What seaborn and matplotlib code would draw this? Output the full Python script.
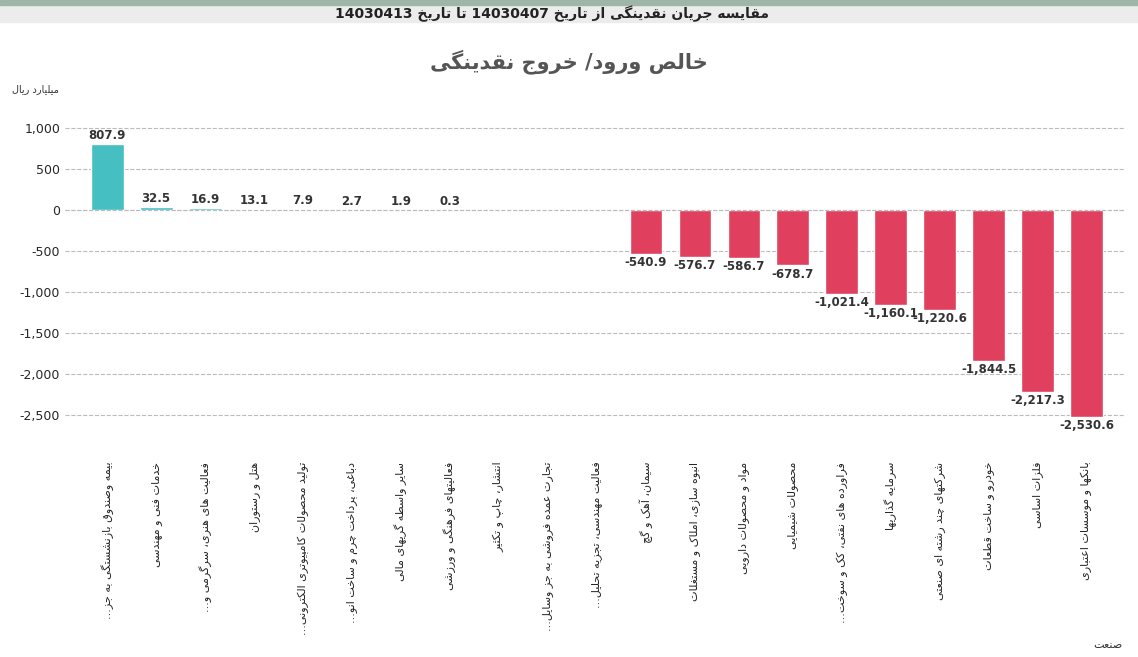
import re
import matplotlib
matplotlib.use("Agg")
import matplotlib.pyplot as plt
import seaborn as sns
import pandas as pd

categories = [
    "بیمه وصندوق بازنشستگی به جز...", "خدمات فنی و مهندسی", "فعالیت های هنری، سرگرمی و...",
    "هتل و رستوران", "تولید محصولات کامپیوتری الکترونی...", "دباغی، پرداخت چرم و ساخت انو...",
    "سایر واسطه گریهای مالی", "فعالیتهای فرهنگی و ورزشی", "انتشار، چاپ و تکثیر",
    "تجارت عمده فروشی به جز وسایل...", "فعالیت مهندسی، تجزیه تحلیل...", "سیمان، آهک و گچ",
    "انبوه سازی، املاک و مستغلات", "مواد و محصولات دارویی", "محصولات شیمیایی",
    "فراورده های نفتی، کک و سوخت...", "سرمایه گذاریها", "شرکتهای چند رشته ای صنعتی",
    "خودرو و ساخت قطعات", "فلزات اساسی", "بانکها و موسسات اعتباری",
]
values = [807.9, 32.5, 16.9, 13.1, 7.9, 2.7, 1.9, 0.3, 0, 0, 0,
          -540.9, -576.7, -586.7, -678.7, -1021.4, -1160.1, -1220.6, -1844.5, -2217.3, -2530.6]
show_label = [True]*8 + [False]*3 + [True]*10
yticks = [1000, 500, 0, -500, -1000, -1500, -2000, -2500]

# minimal Persian shaping: (isolated, final, initial, medial)
F = {
 'ا':(0xFE8D,0xFE8E,None,None),'آ':(0xFE81,0xFE82,None,None),
 'ب':(0xFE8F,0xFE90,0xFE91,0xFE92),'پ':(0xFB56,0xFB57,0xFB58,0xFB59),
 'ت':(0xFE95,0xFE96,0xFE97,0xFE98),'ث':(0xFE99,0xFE9A,0xFE9B,0xFE9C),
 'ج':(0xFE9D,0xFE9E,0xFE9F,0xFEA0),'چ':(0xFB7A,0xFB7B,0xFB7C,0xFB7D),
 'ح':(0xFEA1,0xFEA2,0xFEA3,0xFEA4),'خ':(0xFEA5,0xFEA6,0xFEA7,0xFEA8),
 'د':(0xFEA9,0xFEAA,None,None),'ذ':(0xFEAB,0xFEAC,None,None),
 'ر':(0xFEAD,0xFEAE,None,None),'ز':(0xFEAF,0xFEB0,None,None),'ژ':(0xFB8A,0xFB8B,None,None),
 'س':(0xFEB1,0xFEB2,0xFEB3,0xFEB4),'ش':(0xFEB5,0xFEB6,0xFEB7,0xFEB8),
 'ص':(0xFEB9,0xFEBA,0xFEBB,0xFEBC),'ض':(0xFEBD,0xFEBE,0xFEBF,0xFEC0),
 'ط':(0xFEC1,0xFEC2,0xFEC3,0xFEC4),'ظ':(0xFEC5,0xFEC6,0xFEC7,0xFEC8),
 'ع':(0xFEC9,0xFECA,0xFECB,0xFECC),'غ':(0xFECD,0xFECE,0xFECF,0xFED0),
 'ف':(0xFED1,0xFED2,0xFED3,0xFED4),'ق':(0xFED5,0xFED6,0xFED7,0xFED8),
 'ک':(0xFB8E,0xFB8F,0xFB90,0xFB91),'گ':(0xFB92,0xFB93,0xFB94,0xFB95),
 'ل':(0xFEDD,0xFEDE,0xFEDF,0xFEE0),'م':(0xFEE1,0xFEE2,0xFEE3,0xFEE4),
 'ن':(0xFEE5,0xFEE6,0xFEE7,0xFEE8),'و':(0xFEED,0xFEEE,None,None),
 'ه':(0xFEE9,0xFEEA,0xFEEB,0xFEEC),'ی':(0xFBFC,0xFBFD,0xFBFE,0xFBFF),
}
def fa(s):
    out = []
    for i, c in enumerate(s):
        if c not in F:
            out.append(c); continue
        p = s[i-1] if i > 0 else ''
        n = s[i+1] if i+1 < len(s) else ''
        jp = p in F and F[p][2] is not None
        jn = n in F and F[c][2] is not None
        f = F[c]
        if jp and jn: code = f[3]
        elif jp: code = f[1]
        elif jn: code = f[2]
        else: code = f[0]
        out.append(chr(code))
    r = ''.join(out)[::-1]
    r = re.sub(r'[0-9.,\-]+', lambda m: m.group(0)[::-1], r)
    return r

sns.set_theme(style="white")
plt.rcParams['font.family'] = ['DejaVu Sans']

df = pd.DataFrame({"cat": categories, "val": values})
df["sign"] = ["pos" if v >= 0 else "neg" for v in values]

fig = plt.figure(figsize=(11.38, 6.57), dpi=100)
fig.patch.set_facecolor("white")
ax = fig.add_axes([65/1138, 1-445/657, (1125-65)/1138, (445-105)/657])
sns.barplot(data=df, x="cat", y="val", hue="sign", palette={"pos": "#45BFC1", "neg": "#E0405E"},
            width=0.67, dodge=False, legend=False, ax=ax, saturation=1)
ax.set_ylim(-2870, 1280)
ax.set_xlim(-0.86, 20.78)
ax.set_yticks(yticks)
ax.set_yticklabels([f"{t:,}" for t in yticks], fontsize=9)
ax.yaxis.grid(True, linestyle="--", color="#bbbbbb", linewidth=0.8)
ax.axhline(0, color="#bbbbbb", linewidth=0.8, linestyle="--")
for s in ax.spines.values():
    s.set_visible(False)
ax.set_xlabel(""); ax.set_ylabel("")
ax.set_xticks(range(len(categories)))
ax.set_xticklabels([fa(c) for c in categories], rotation=90, fontsize=8, va="top", ha="center")
ax.tick_params(axis="x", pad=12, length=0)
ax.tick_params(axis="y", length=0)
for i, (v, sh) in enumerate(zip(values, show_label)):
    if not sh: continue
    if v >= 0:
        ax.text(i, v + 25, f"{v:,.1f}", ha="center", va="bottom", fontsize=8.5, fontweight="bold", color="#333")
    else:
        ax.text(i, v - 25, f"{v:,.1f}", ha="center", va="top", fontsize=8.5, fontweight="bold", color="#333")

# window frame
fig.add_artist(plt.Rectangle((0, 1-22/657), 1, 22/657, transform=fig.transFigure, color="#ececec", zorder=-1))
fig.add_artist(plt.Rectangle((0, 1-5/657), 1, 5/657, transform=fig.transFigure, color="#9fb5a8", zorder=0))
fig.text(552/1138, 1-14/657, fa("مقایسه جریان نقدینگی از تاریخ 14030407 تا تاریخ 14030413"),
         ha="center", va="center", fontsize=10, fontweight="bold", color="#222")
fig.text(0.5, 1-62/657, fa("خالص ورود/ خروج نقدینگی"), ha="center", va="center",
         fontsize=15, fontweight="bold", color="#555")
fig.text(35/1138, 1-89/657, fa("میلیارد ریال"), ha="center", va="center", fontsize=7, color="#333")
fig.text(1108/1138, 1-645/657, fa("صنعت"), ha="center", va="center", fontsize=8, color="#333")
fig.savefig("out.png", dpi=100)
